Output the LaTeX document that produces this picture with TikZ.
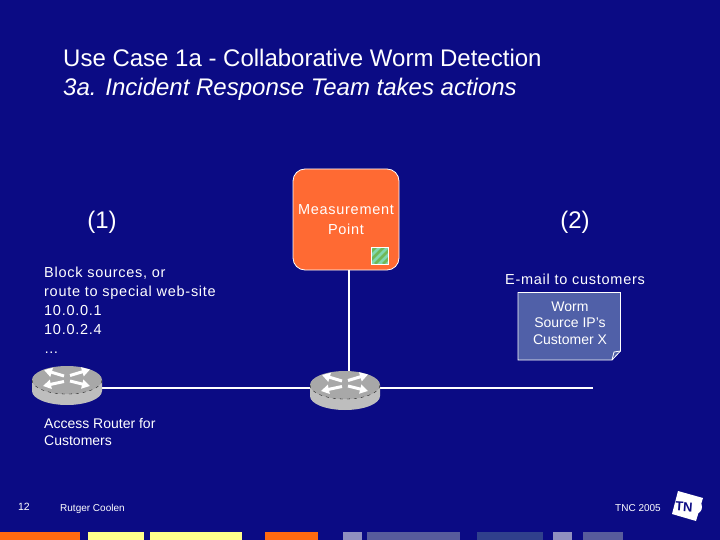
\documentclass[tikz,border=0pt]{standalone}
\usepackage{fontspec}
\setmainfont{Liberation Sans}
\newfontfamily\spaced[LetterSpace=5]{Liberation Sans}
\usetikzlibrary{arrows.meta}
\definecolor{bgblue}{HTML}{0B0B84}
\definecolor{mporange}{HTML}{FF6A33}
\definecolor{barorange}{HTML}{FF6A10}
\definecolor{baryellow}{HTML}{FFFF8C}
\definecolor{barlight}{HTML}{9090C0}
\definecolor{barmid}{HTML}{585C9C}
\definecolor{bardark}{HTML}{30408C}
\definecolor{notefill}{HTML}{5060A8}
\definecolor{hatchgreen}{HTML}{80D8B0}
\definecolor{hatchdark}{HTML}{70B858}
\definecolor{routertop}{HTML}{A8A8A8}
\definecolor{routerside}{HTML}{BEBEBE}
\tikzset{
  txt/.style={text=white,inner sep=0pt,font=\spaced\fontsize{14.5}{18.9}\selectfont,align=left},
  txtc/.style={text=white,inner sep=0pt,font=\spaced\fontsize{14.5}{20}\selectfont,align=center},
  small/.style={text=white,inner sep=0pt,font=\fontsize{14}{16.5}\selectfont,align=center},
  title/.style={text=white,inner sep=0pt,font=\fontsize{24}{29}\selectfont,align=left},
  big/.style={text=white,inner sep=0pt,font=\fontsize{24}{28}\selectfont},
  foot/.style={text=white,inner sep=0pt,font=\fontsize{10}{12}\selectfont},
  link/.style={draw=white,line width=1.6pt},
  harrow/.style={white,line width=3pt,-{Triangle[length=8pt,width=9pt]}},
  router/.pic={
    \fill[routerside] (-35,0) -- (-35,11) arc[x radius=35,y radius=14,start angle=180,end angle=0] -- (35,0) -- cycle;
    \fill[routertop] (0,0) ellipse[x radius=35,y radius=14];
    \draw[black,line width=.3pt,dash pattern=on 3pt off 4pt] (-35,0) arc[x radius=35,y radius=14,start angle=180,end angle=0];
    \draw[harrow] (-3,-4) -- (-23,-10);
    \draw[harrow] (3,-4.5) -- (23,-10.5);
    \draw[harrow] (-3,1.5) -- (-24,6);
    \draw[harrow] (3,1) -- (23,6);
  }
}
\begin{document}
\begin{tikzpicture}[x=1pt,y=-1pt]
\fill[bgblue] (0,0) rectangle (720,540);
\useasboundingbox (0,0) rectangle (720,540);
% footer bars
\fill[barorange] (0,532) rectangle (80,540);
\fill[baryellow] (88,532) rectangle (144,540);
\fill[baryellow] (150,532) rectangle (242,540);
\fill[barorange] (265,532) rectangle (318,540);
\fill[barlight] (343,532) rectangle (362,540);
\fill[barmid] (367,532) rectangle (460,540);
\fill[bardark] (477,532) rectangle (543,540);
\fill[barlight] (553,532) rectangle (572,540);
\fill[barmid] (583,532) rectangle (623,540);
% title
\node[title,anchor=north west] (ttl) at (63,49) {Use Case 1a - Collaborative Worm Detection\\\textit{3a. Incident Response Team takes actions}};
% measurement point
\node[draw=white,line width=.8pt,fill=mporange,rounded corners=12pt,minimum width=106pt,minimum height=101pt,inner sep=0pt] (mp) at (346,219.5) {};
\node[txtc] (mpt) at (346,219.5) {Measurement\\Point};
\node[draw=white,line width=.8pt,fill=hatchgreen,minimum size=17pt,inner sep=0pt] (hatch) at (380,255.5) {};
\begin{scope}
\clip (371.5,247) rectangle (388.5,264);
\foreach \d in {-12,-4,4,12}
  \draw[hatchdark,line width=2.6pt] (371+\d,264) -- (389+\d,246);
\end{scope}
\draw[white,line width=.8pt] (371.5,247) rectangle (388.5,264);
% connectors
\coordinate (r1) at (67,388);
\coordinate (r2) at (345,388);
\coordinate (rend) at (593,388);
\coordinate (r2t) at (349,372);
\coordinate (mpb) at (349,270);
\draw[link] (r1) -- (rend);
\draw[link] (mpb) -- (r2t);
% routers
\path (67,380) pic {router};
\path (345,385) pic {router};
% labels
\node[big] (l1) at (102,222) {(1)};
\node[big] (l2) at (575,222) {(2)};
\node[txt,anchor=north west] (block) at (44,267) {Block sources, or\\route to special web-site\\10.0.0.1\\10.0.2.4\\\dots};
\node[txt,anchor=center] (email) at (575,279) {E-mail to customers};
\node[txt,anchor=north west,font=\fontsize{14}{17}\selectfont] (access) at (44,418) {Access Router for\\Customers};
% note
\path[draw=white,line width=.8pt,fill=notefill] (518,292.5) -- (620.5,292.5) -- (620.5,351) -- (612,360) -- (518,360) -- cycle;
\draw[white,line width=.8pt] (612,360) -- (614,352) -- (620.5,351);
\node[small] (note) at (570,323) {Worm\\Source IP's\\Customer X};
% footer
\node[foot,font=\fontsize{10.5}{12}\selectfont] (num) at (24,507) {12};
\node[foot,anchor=west] (name) at (60,508.5) {Rutger Coolen};
\node[foot,anchor=east] (tnc) at (661,508.5) {TNC 2005};
% logo
\fill[white] (678,491) -- (703,498) -- (696,521) -- (672,514) -- cycle;
\fill[white] (695,507) circle (7);
\node[inner sep=0pt,text=bgblue,font=\bfseries\fontsize{13}{13}\selectfont,rotate=-4] (tno) at (684,507) {TN};
\end{tikzpicture}
\end{document}
